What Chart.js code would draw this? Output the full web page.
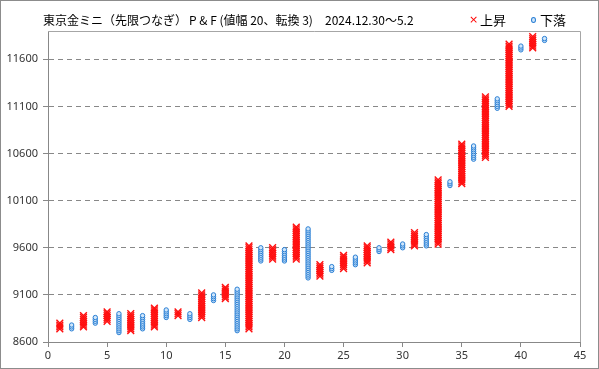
<!DOCTYPE html>
<html>
<head>
<meta charset="utf-8">
<script src="https://cdn.jsdelivr.net/npm/chart.js@4.4.1/dist/chart.umd.min.js"></script>
<style>
    html, body { margin: 0; padding: 0; background: #fff; }
    #wrap { position: relative; width: 599px; height: 369px; }
    .hdr { position: absolute; top: 13px; line-height: 13px; font-family: "Noto Sans CJK JP", sans-serif; font-size: 12px; color: #000; white-space: nowrap; }
    .leg { font-size: 13px; }
    #xMark { position: absolute; left: 469px; top: 13px; line-height: 13px; font-family: "DejaVu Sans", sans-serif; font-size: 11px; color: #ff0000; }
    #oMark { position: absolute; left: 531px; top: 17px; width: 3px; height: 4px; border: 1px solid #2a7fd4; background: #cfe6fb; border-radius: 50%; }
</style>
</head>
<body>
<div id="wrap">
    <canvas id="pfChart" width="599" height="369"></canvas>
    <span class="hdr" style="left:43px">東京金ミニ（先限つなぎ）</span>
    <span class="hdr" style="left:189px">P &amp; F (値幅 20、転換 3)</span>
    <span class="hdr" style="left:325px">2024.12.30～5.2</span>
    <span id="xMark">×</span>
    <span class="hdr leg" style="left:480px">上昇</span>
    <span id="oMark"></span>
    <span class="hdr leg" style="left:540px">下落</span>
</div>
<script>
const BOX = 20; // 値幅

// P&F columns: number, type (X = 上昇, O = 下落), lowest and highest box
const colNo   = [1, 2, 3, 4, 5, 6, 7, 8, 9, 10, 11, 12, 13, 14, 15, 16, 17, 18, 19, 20, 21,
                 22, 23, 24, 25, 26, 27, 28, 29, 30, 31, 32, 33, 34, 35, 36, 37, 38, 39, 40, 41, 42];
const colType = ['X', 'O', 'X', 'O', 'X', 'O', 'X', 'O', 'X', 'O', 'X', 'O', 'X', 'O', 'X', 'O', 'X', 'O', 'X', 'O', 'X',
                 'O', 'X', 'O', 'X', 'O', 'X', 'O', 'X', 'O', 'X', 'O', 'X', 'O', 'X', 'O', 'X', 'O', 'X', 'O', 'X', 'O'];
const colLow  = [8740, 8740, 8760, 8800, 8820, 8700, 8720, 8740, 8760, 8860, 8880, 8840, 8860, 9040, 9060, 8720, 8740, 9460, 9480, 9460, 9480,
                 9280, 9300, 9360, 9380, 9420, 9440, 9560, 9580, 9600, 9620, 9620, 9640, 10260, 10280, 10540, 10560, 11080, 11100, 11700, 11720, 11800];
const colHigh = [8800, 8780, 8880, 8860, 8920, 8900, 8900, 8880, 8960, 8940, 8920, 8900, 9120, 9100, 9180, 9160, 9620, 9600, 9600, 9580, 9820,
                 9800, 9420, 9400, 9520, 9500, 9620, 9600, 9660, 9640, 9760, 9740, 10320, 10300, 10700, 10680, 11200, 11180, 11760, 11740, 11840, 11820];

const xTicks = [0, 5, 10, 15, 20, 25, 30, 35, 40, 45];
const yTicks = [8600, 9100, 9600, 10100, 10600, 11100, 11600];

// one mark per box of each column
const upBoxes = [];
const downBoxes = [];
colNo.forEach((c, i) => {
    for (let v = colLow[i]; v <= colHigh[i]; v += BOX) {
        (colType[i] === 'X' ? upBoxes : downBoxes).push({ x: c, y: v });
    }
});

// plot frame + outer border
const framePlugin = {
    id: 'frame',
    afterDraw(chart) {
        const { ctx, chartArea: a } = chart;
        ctx.save();
        ctx.strokeStyle = '#a6a6a6';
        ctx.lineWidth = 1;
        ctx.beginPath();
        ctx.moveTo(a.left, a.top + 0.5);
        ctx.lineTo(a.right + 0.5, a.top + 0.5);
        ctx.lineTo(a.right + 0.5, a.bottom);
        ctx.stroke();
        ctx.strokeStyle = '#8c8c8c';
        ctx.strokeRect(0.5, 0.5, chart.width - 1, chart.height - 1);
        ctx.restore();
    }
};

const tickFont = { family: '"Noto Sans", sans-serif', size: 11 };

new Chart(document.getElementById('pfChart').getContext('2d'), {
    type: 'scatter',
    data: {
        datasets: [{
            label: '上昇',
            data: upBoxes,
            pointStyle: 'crossRot',
            pointRadius: 4.8,
            pointBorderWidth: 1.4,
            borderColor: '#ff1010',
            backgroundColor: '#ff1010'
        }, {
            label: '下落',
            data: downBoxes,
            pointStyle: 'circle',
            pointRadius: 2.2,
            pointBorderWidth: 1,
            borderColor: '#2a7fd4',
            backgroundColor: '#cfe6fb'
        }]
    },
    options: {
        responsive: false,
        animation: false,
        layout: { padding: { top: 31, right: 19, left: 0, bottom: 0 } },
        plugins: {
            legend: { display: false },
            tooltip: { enabled: false }
        },
        scales: {
            x: {
                type: 'linear',
                min: 0,
                max: 45,
                afterBuildTicks: s => { s.ticks = xTicks.map(v => ({ value: v })); },
                afterFit: s => { s.height = 27; },
                grid: { drawOnChartArea: false, tickLength: 5, color: '#888' },
                border: { color: '#888' },
                ticks: { padding: 2, color: '#333', font: tickFont, maxRotation: 0, callback: v => String(v) }
            },
            y: {
                type: 'linear',
                min: 8600,
                max: 11900,
                afterBuildTicks: s => { s.ticks = yTicks.map(v => ({ value: v })); },
                afterFit: s => { s.width = 48; },
                grid: { color: '#888', tickLength: 5, tickBorderDash: [] },
                border: { color: '#888', dash: [5, 4] },
                ticks: { padding: 5, color: '#333', font: tickFont, callback: v => String(v) }
            }
        }
    },
    plugins: [framePlugin]
});
</script>
</body>
</html>
